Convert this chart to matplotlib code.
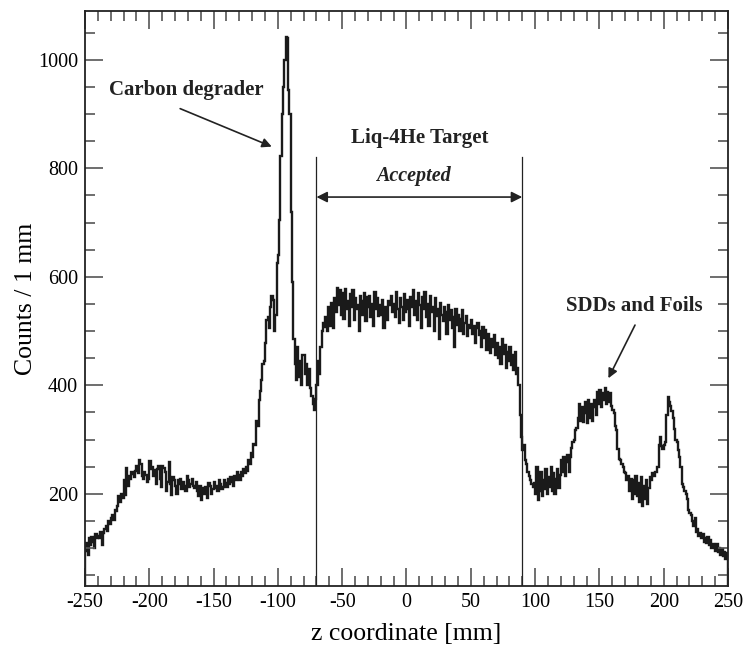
import numpy as np
import matplotlib
matplotlib.use('Agg')
import matplotlib.pyplot as plt

# counts per 1 mm bin (bins start at -250 mm)
counts_left = [
  95, 110, 88, 118, 105, 120, 112, 100, 125, 118,
  122, 118, 130, 105, 128, 135, 140, 132, 150, 145,
  155, 160, 152, 170, 168, 178, 195, 185, 200, 192,
  225, 198, 248, 215, 232, 228, 240, 236, 230, 242,
  252, 238, 262, 255, 232, 228, 240, 235, 222, 228,
  260, 245, 250, 232, 244, 218, 246, 252, 228, 212,
  252, 248, 240, 205, 222, 258, 218, 198, 230, 225,
  215, 200, 225, 218, 228, 208, 222, 214, 205, 232,
  226, 212, 218, 228, 215, 210, 222, 205, 196, 215,
  188, 210, 200, 212, 206, 192, 220, 214, 200, 208,
  222, 210, 215, 205, 225, 218, 208, 212, 226, 220,
  212, 228, 218, 230, 222, 214, 232, 226, 240, 235,
  225, 240, 232, 245, 238, 250, 242, 262, 255, 275,
]
counts_degrader = [
  268, 292, 290, 335, 325, 372, 390, 410, 440, 445,
  478, 520, 526, 505, 545, 565, 558, 500, 530, 625,
  640, 705, 822, 900, 950, 1000, 1042, 1040, 945, 900,
  720, 590, 485, 440, 410, 470, 415, 445, 400, 455,
  455, 420, 440, 400, 430, 395, 380, 365, 355, 375,
]
counts_target = [
  400, 445, 420, 470, 500, 515, 508, 525, 500, 545,
  510, 552, 525, 505, 560, 535, 580, 548, 575, 530,
  570, 522, 578, 540, 555, 510, 568, 545, 575, 520,
  560, 540, 548, 500, 565, 530, 555, 570, 518, 562,
  545, 565, 525, 550, 510, 572, 540, 560, 528, 548,
  530, 558, 505, 545, 538, 520, 555, 548, 565, 535,
  550, 525, 572, 540, 515, 560, 545, 520, 568, 535,
  558, 540, 510, 562, 545, 575, 530, 555, 520, 570,
  548, 505, 562, 540, 572, 525, 550, 510, 565, 535,
  545, 500, 560, 528, 540, 485, 552, 530, 518, 545,
  535, 495, 548, 520, 538, 505, 525, 470, 540, 512,
  530, 500, 522, 538, 495, 515, 528, 490, 512, 505,
  520, 495, 510, 478, 505, 515, 492, 500, 470, 508,
  488, 502, 465, 495, 480, 460, 485, 470, 492, 455,
  478, 450, 470, 440, 485, 458, 475, 432, 462, 445,
  470, 438, 455, 428, 462, 420, 432, 400, 345, 305,
]
counts_right = [
  280, 290, 262, 255, 240, 232, 225, 218, 212, 220,
  200, 250, 188, 205, 240, 195, 225, 208, 245, 200,
  230, 212, 250, 205, 238, 200, 228, 245, 210, 235,
  262, 240, 268, 232, 258, 272, 240, 268, 285, 295,
  300, 318, 322, 340, 365, 335, 360, 332, 348, 370,
  330, 372, 340, 365, 335, 360, 372, 345, 388, 365,
  392, 360, 385, 372, 395, 365, 388, 370, 385, 362,
  355, 348, 325, 318, 282, 265, 262, 255, 250, 240,
  238, 225, 232, 205, 228, 190, 225, 200, 232, 195,
  220, 185, 230, 178, 215, 190, 225, 182, 210, 230,
  225, 238, 232, 240, 240, 250, 290, 305, 288, 282,
  290, 295, 345, 378, 370, 362, 352, 340, 320, 300,
  295, 280, 268, 250, 218, 212, 205, 200, 190, 170,
  165, 160, 150, 140, 155, 130, 135, 122, 128, 118,
  125, 112, 118, 110, 120, 105, 115, 100, 108, 102,
  95, 108, 92, 100, 88, 98, 85, 92, 80, 90,
]

z_min, z_max = -250, 250
accept_low, accept_high = -70, 90
x_ticks = [-250, -200, -150, -100, -50, 0, 50, 100, 150, 200, 250]
y_ticks = [200, 400, 600, 800, 1000]

plt.rcParams['font.family'] = ['Liberation Serif', 'DejaVu Serif']
plt.rcParams['axes.unicode_minus'] = False


def plot_z_distribution():
  """""
    Plot the z vertex distribution histogram with annotations
  """
  counts = np.array(counts_left + counts_degrader + counts_target + counts_right)
  edges = np.arange(z_min, z_max + 1)

  fig = plt.figure(figsize=(7.43, 6.47), dpi=100)
  ax = fig.add_axes([0.1144, 0.0943, 0.8654, 0.8887])

  ax.stairs(counts, edges, color='#1a1a1a', linewidth=1.7)

  ax.set_xlim(z_min, z_max)
  ax.set_ylim(30, 1090)
  ax.set_xticks(x_ticks)
  ax.set_xticks(np.arange(z_min, z_max + 1, 10), minor=True)
  ax.set_yticks(y_ticks)
  ax.set_yticks(np.arange(50, 1090, 50), minor=True)
  ax.tick_params(which='both', direction='in', top=True, right=True,
                 labelsize=14.5, color='#555555', width=1.2)
  ax.tick_params(which='major', length=13, pad=5)
  ax.tick_params(which='minor', length=7)
  for s in ax.spines.values():
    s.set_linewidth(1.3)
    s.set_color('#222222')

  ax.set_xlabel('z coordinate [mm]', fontsize=18.5, labelpad=8)
  ax.set_ylabel('Counts / 1 mm', fontsize=18.5, labelpad=1)

  # acceptance window
  for z in (accept_low, accept_high):
    ax.plot([z, z], [30, 820], color='#222222', linewidth=0.9)
  ax.annotate('', xy=(accept_low, 747), xytext=(accept_high, 747),
              arrowprops=dict(arrowstyle='<|-|>', color='#222222', lw=1.2,
                              mutation_scale=16, shrinkA=0, shrinkB=0))
  ax.text(10, 856, 'Liq-4He Target', fontsize=15, fontweight='bold',
          ha='center', va='center', color='#222222')
  ax.text(5, 785, 'Accepted', fontsize=14.5, fontweight='bold', style='italic',
          ha='center', va='center', color='#222222')

  ax.text(-171, 945, 'Carbon degrader', fontsize=15, fontweight='bold',
          ha='center', va='center', color='#222222')
  ax.annotate('', xy=(-104.8, 840), xytext=(-176, 910),
              arrowprops=dict(arrowstyle='-|>', color='#222222', lw=1.2,
                              mutation_scale=14, shrinkA=0, shrinkB=0))

  ax.text(177, 546, 'SDDs and Foils', fontsize=15, fontweight='bold',
          ha='center', va='center', color='#222222')
  ax.annotate('', xy=(157, 413), xytext=(177.7, 511),
              arrowprops=dict(arrowstyle='-|>', color='#222222', lw=1.2,
                              mutation_scale=14, shrinkA=0, shrinkB=0))

  fig.savefig('out.png', dpi=100)


plot_z_distribution()
